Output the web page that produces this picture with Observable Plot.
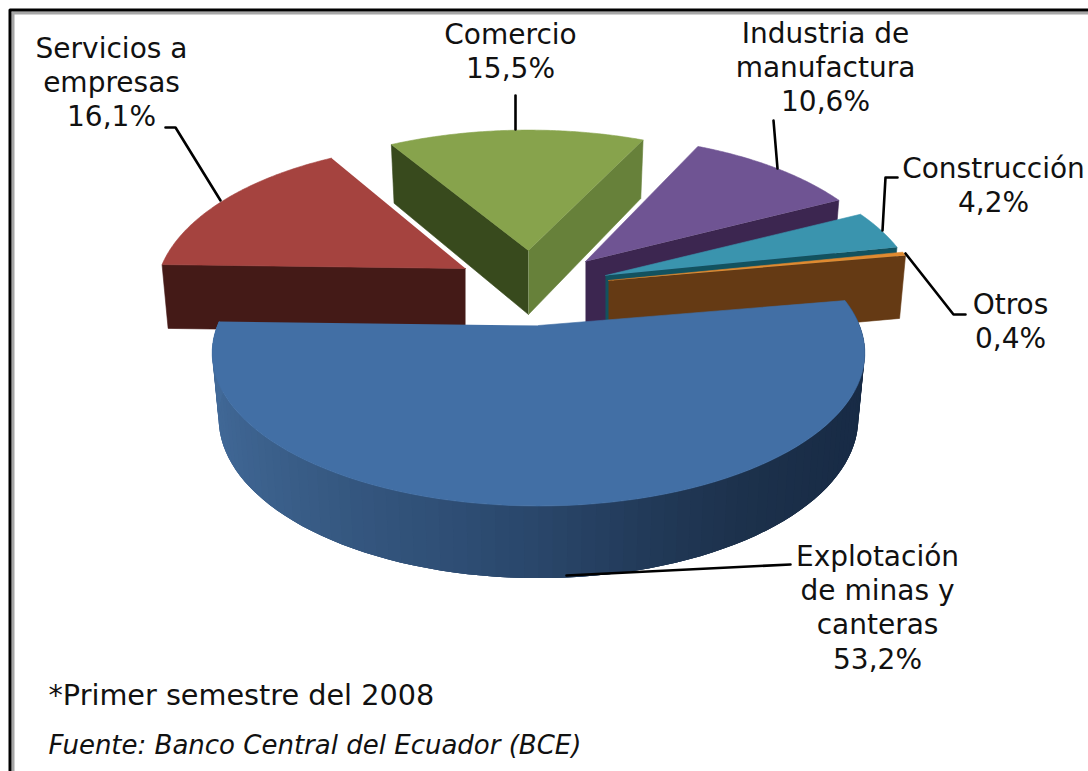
<!DOCTYPE html>
<html>
<head>
<meta charset="utf-8">
<script src="https://cdn.jsdelivr.net/npm/d3@7"></script>
<script src="https://cdn.jsdelivr.net/npm/@observablehq/plot@0.6"></script>
<style>html,body{margin:0;padding:0;background:#fff}svg{display:block}</style>
</head>
<body>
<div id="chart"></div>
<script>
// Data
const categories = ["Explotación de minas y canteras","Servicios a empresas","Comercio","Industria de manufactura","Construcción","Otros"];
const shares = [53.2,16.1,15.5,10.6,4.2,0.4];
const labelLines = ["Explotación\nde minas y\ncanteras","Servicios a\nempresas","Comercio","Industria de\nmanufactura","Construcción","Otros"];
const footnote = "*Primer semestre del 2008";
const source = "Fuente: Banco Central del Ecuador (BCE)";

// Styles
const topColors = ["#426fa5","#a5433f","#87a34c","#6f5493","#3a94ae","#e08a30"];
const flankColors = ["#2a4a70","#441a17","#384a1d","#3c2650","#12525f","#653a14"];
const greenFrontFlank = "#67813a";
const rimStops = ["#172a45","#1c3049","#2a486e","#35577f","#426a99"];

// Layout of the exploded, perspective pie
const W = 1088, H = 771;
const apexX = [538,465,528,585,605,608];
const apexY = [325,268,250,261,275,280];
const radius = [321,305,312,306,308,311];
const squash = [1,1,0.96,1,1,1];
const startAngle = -10;          // degrees, clockwise from screen right
const tilt = 148, persp = 0.18, thick = 64;
const flankSide = ["none","start","both","end","end","end"];
const drawOrder = [2,3,4,5,1,0];
const labelX = [877,111,510,825,993,1010];
const labelY = [541,33,19,18,153,289];
const leaders = [
  [[790,564],[566,575]],
  [[165,127],[175,127],[220,200]],
  [[515,95],[515,129]],
  [[773,120],[777,168]],
  [[897,177],[885,177],[882,230]],
  [[905,253],[953,314],[965,314]]
];

// Angles derived from the shares
const total = d3.sum(shares);
let acc = startAngle;
const arcs = shares.map(v => { const a0 = acc; acc += v / total * 360; return [a0, acc]; });

const rad = d => d * Math.PI / 180;
function rim(i, deg) {
  const u = Math.cos(rad(deg)), v = Math.sin(rad(deg));
  const s = 1 / (1 - persp * v);
  return {x: apexX[i] + radius[i] * u * s, y: apexY[i] + tilt * squash[i] * v * s, s};
}
function lower(i, p) {
  return {x: apexX[i] + (p.x - apexX[i]) * 0.98, y: p.y + thick * Math.pow(p.s, 0.6), s: p.s};
}
const apex = i => ({x: apexX[i], y: apexY[i], s: 1});

const polygon = (pts, color) => Plot.line(pts, {x:"x", y:"y", fill:color, stroke:color, strokeWidth:0.6, curve:"linear"});
const band = (pts, color) => Plot.line(pts, {x:"x", y:"y", fill:color, stroke:"none", curve:"linear"});

const rimColor = d3.interpolateRgbBasis(rimStops);
const marks = [];

for (const i of drawOrder) {
  const [a0, a1] = arcs[i];
  const n = 90;
  const steps = d3.range(0, n + 1).map(k => a0 + (a1 - a0) * k / n);
  const flank = (deg, color) => {
    const p = rim(i, deg), a = apex(i);
    marks.push(polygon([a, p, lower(i, p), lower(i, a)], color));
  };
  if (flankSide[i] === "both") {
    flank(a0, flankColors[i]);
    flank(a1, greenFrontFlank);
  } else if (flankSide[i] === "start") flank(a0, flankColors[i]);
  else if (flankSide[i] === "end") flank(a1, flankColors[i]);
  // curved outer wall of the main slice: overlapping bands so no seams show
  if (i === 0) {
    for (let k = 0; k < n; k++) {
      const pts = steps.slice(k, Math.min(k + 4, n + 1)).map(d => rim(i, d));
      const t = (1 - Math.cos(rad(steps[k]))) / 2;
      marks.push(band([...pts, ...pts.slice().reverse().map(p => lower(i, p))], rimColor(t)));
    }
  }
  marks.push(polygon([apex(i), ...steps.map(d => rim(i, d))], topColors[i]));
}

// Leader lines
leaders.forEach(pts => marks.push(Plot.line(pts, {x:d=>d[0], y:d=>d[1], stroke:"#000", strokeWidth:2.6, curve:"linear"})));

// Frame (top and left only, black with grey inner edge)
const frame = [
  {pts:[[12.5,771],[12.5,12.5],[1088,12.5]], c:"#a6a6a6", w:3},
  {pts:[[9.5,771],[9.5,9.5],[1088,9.5]], c:"#000", w:3}
];
frame.forEach(f => marks.push(Plot.line(f.pts, {x:d=>d[0], y:d=>d[1], stroke:f.c, strokeWidth:f.w, curve:"linear"})));

// Labels
const fmt = v => v.toFixed(1).replace(".", ",") + "%";
const labels = categories.map((c, i) => ({text: labelLines[i] + "\n" + fmt(shares[i]), x: labelX[i], y: labelY[i]}));
marks.push(Plot.text(labels, {x:"x", y:"y", text:"text", textAnchor:"middle", lineAnchor:"top", lineHeight:1.225, fontSize:28, fontFamily:"DejaVu Sans", fill:"#111"}));
marks.push(Plot.text([footnote], {x:()=>48, y:()=>695, text:d=>d, textAnchor:"start", lineAnchor:"middle", fontSize:28.7, fontFamily:"DejaVu Sans", fill:"#111"}));
marks.push(Plot.text([source], {x:()=>48, y:()=>745, text:d=>d, textAnchor:"start", lineAnchor:"middle", fontSize:26, fontStyle:"italic", fontFamily:"DejaVu Sans", fill:"#111"}));

const chart = Plot.plot({
  width: W, height: H,
  margin: 0,
  x: {domain:[0,W], range:[0,W], axis:null},
  y: {domain:[0,H], range:[0,H], axis:null},
  style: {background:"#fff"},
  marks
});
document.getElementById("chart").appendChild(chart);
</script>
</body>
</html>
